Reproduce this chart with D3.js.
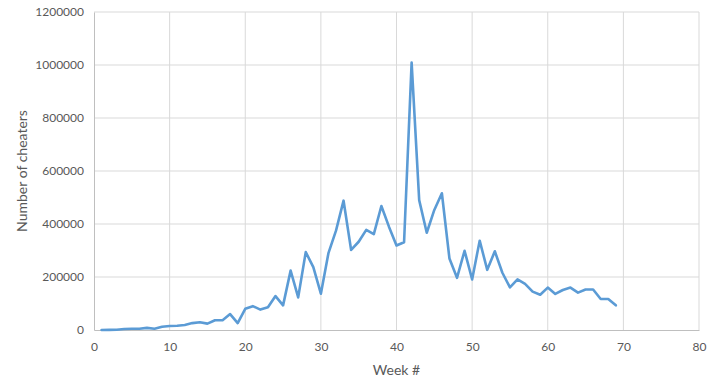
<!DOCTYPE html>
<html>
<head>
<meta charset="utf-8">
<script src="https://cdn.jsdelivr.net/npm/d3@7"></script>
<style>
  html, body { margin: 0; padding: 0; background: #fff; }
  svg { display: block; font-family: Lato, "Open Sans", sans-serif; }
</style>
</head>
<body>
<svg id="chart" width="720" height="385"></svg>
<script>
const weeks = d3.range(1, 70);
const cheaters = [
  0, 500, 1000, 4000, 5000, 5000, 8000, 5000, 12000, 15000,
  16000, 19000, 26000, 29000, 24000, 37000, 37000, 60000, 26000, 80000,
  90000, 77000, 86000, 128000, 93000, 224000, 123000, 294000, 237000, 137000,
  290000, 375000, 488000, 302000, 333000, 378000, 362000, 468000, 390000, 319000,
  331000, 1009000, 490000, 367000, 453000, 516000, 270000, 197000, 299000, 191000,
  337000, 227000, 297000, 216000, 161000, 191000, 174000, 145000, 133000, 160000,
  136000, 151000, 160000, 141000, 153000, 153000, 117000, 117000, 93000
];
const xTicks = [0, 10, 20, 30, 40, 50, 60, 70, 80];
const yTicks = [0, 200000, 400000, 600000, 800000, 1000000, 1200000];
const xTitle = "Week #";
const yTitle = "Number of cheaters";

const margin = {left: 94, right: 21, top: 12, bottom: 55};
const W = 720, H = 385;
const svg = d3.select("#chart");
const x = d3.scaleLinear().domain([0, 80]).range([margin.left, W - margin.right]);
const y = d3.scaleLinear().domain([0, 1200000]).range([H - margin.bottom, margin.top]);

// gridlines
svg.append("g").selectAll("line.v").data(xTicks.slice(1)).join("line")
  .attr("x1", d => x(d)).attr("x2", d => x(d))
  .attr("y1", y(0)).attr("y2", y(1200000))
  .attr("stroke", "#d9d9d9").attr("stroke-width", 1);
svg.append("g").selectAll("line.h").data(yTicks.slice(1)).join("line")
  .attr("x1", x(0)).attr("x2", x(80))
  .attr("y1", d => y(d)).attr("y2", d => y(d))
  .attr("stroke", "#d9d9d9").attr("stroke-width", 1);

// axes
const xAxis = svg.append("g").attr("transform", `translate(0,${y(0)})`)
  .call(d3.axisBottom(x).tickValues(xTicks).tickSize(0).tickPadding(12).tickFormat(d3.format("d")));
const yAxis = svg.append("g").attr("transform", `translate(${x(0)},0)`)
  .call(d3.axisLeft(y).tickValues(yTicks).tickSize(0).tickPadding(10).tickFormat(d3.format("d")));
[xAxis, yAxis].forEach(g => {
  g.select(".domain").attr("stroke", "#bfbfbf").attr("stroke-width", 1);
  g.selectAll("text").attr("fill", "#595959").style("font-size", "12px")
    .style("font-family", "Lato, 'Open Sans', sans-serif");
});

// line
const line = d3.line().x((d, i) => x(weeks[i])).y(d => y(d));
svg.append("path").datum(cheaters)
  .attr("d", line).attr("fill", "none")
  .attr("stroke", "#5b9bd5").attr("stroke-width", 2.6)
  .attr("stroke-linejoin", "round").attr("stroke-linecap", "round");

// titles
svg.append("text").attr("x", (x(0) + x(80)) / 2).attr("y", 375)
  .attr("text-anchor", "middle").attr("fill", "#595959")
  .style("font-size", "14px").text(xTitle);
svg.append("text")
  .attr("transform", `translate(27,${(y(0) + y(1200000)) / 2}) rotate(-90)`)
  .attr("text-anchor", "middle").attr("fill", "#595959")
  .style("font-size", "14px").text(yTitle);
</script>
</body>
</html>
